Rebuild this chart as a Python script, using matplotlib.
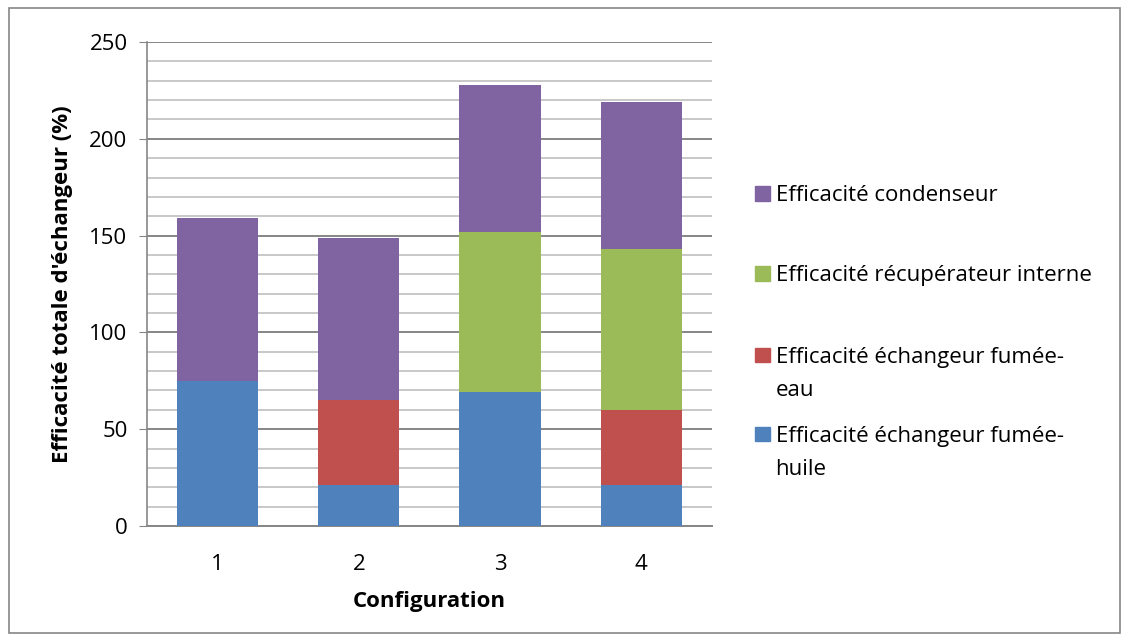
import matplotlib.pyplot as plt
from matplotlib.patches import Rectangle
import numpy as np

configs = ['1', '2', '3', '4']
huile = [75, 21, 69, 21]
eau = [0, 44, 0, 39]
recup = [0, 0, 83, 83]
condenseur = [84, 84, 76, 76]

series = [huile, eau, recup, condenseur]
labels = ['Efficacité échangeur fumée-\nhuile',
          'Efficacité échangeur fumée-\neau',
          'Efficacité récupérateur interne',
          'Efficacité condenseur']
colors = ['#4F81BD', '#C0504D', '#9BBB59', '#8064A2']

plt.rcParams['font.family'] = ['Open Sans', 'DejaVu Sans']
fs = 16

fig = plt.figure(figsize=(11.29, 6.41), dpi=100)
ax = fig.add_axes([0.1302, 0.1794, 0.5004, 0.7551])

x = np.arange(1, len(configs) + 1)
bottom = np.zeros(len(configs))
for vals, col in zip(series, colors):
    ax.bar(x, vals, width=0.575, bottom=bottom, color=col, zorder=3)
    bottom += np.array(vals)

ax.set_xlim(0.5, 4.5)
ax.set_ylim(0, 250)
ax.set_yticks(range(0, 251, 50))
ax.set_yticks(range(0, 251, 10), minor=True)
ax.set_xticks(x)
ax.set_xticklabels(configs)
ax.tick_params(axis='y', which='major', length=6, color='#868686', labelsize=fs, pad=8)
ax.tick_params(axis='y', which='minor', length=0)
ax.tick_params(axis='x', length=0, labelsize=fs, pad=20)

ax.grid(axis='y', which='minor', color='#BFBFBF', linewidth=1.2, zorder=0)
ax.grid(axis='y', which='major', color='#868686', linewidth=1.4, zorder=0)

for s in ['top', 'right']:
    ax.spines[s].set_visible(False)
ax.spines['left'].set_color('#868686')
ax.spines['bottom'].set_color('#868686')
ax.spines['left'].set_linewidth(1.2)
ax.spines['bottom'].set_linewidth(1.4)

ax.set_xlabel('Configuration', fontsize=fs, fontweight='bold', labelpad=12)
ax.set_ylabel("Efficacité totale d'échangeur (%)", fontsize=fs, fontweight='bold', labelpad=12)

# legend, drawn by hand (reversed order, marker next to first line)
leg_y = [0.6985, 0.5736, 0.4462, 0.3229]
line_gap = 33 / 641
for lab, col, yy in zip(labels[::-1], colors[::-1], leg_y):
    fig.patches.append(Rectangle((0.6687, yy - 0.0115), 0.0133, 0.023,
                                 transform=fig.transFigure, color=col))
    for i, part in enumerate(lab.split('\n')):
        fig.text(0.687, yy - i * line_gap, part, fontsize=fs, va='center_baseline',
                 transform=fig.transFigure)

# outer border
fig.patches.append(Rectangle((0.008, 0.012), 0.984, 0.975, transform=fig.transFigure,
                             fill=False, edgecolor='#868686', linewidth=1.2))

fig.savefig('out.png', dpi=100)
